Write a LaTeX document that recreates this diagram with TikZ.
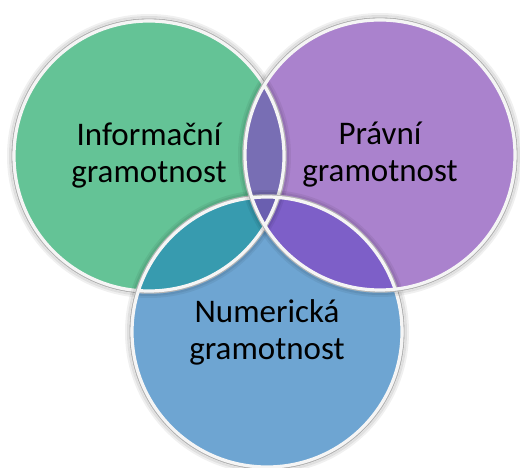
\documentclass[tikz,border=0pt]{standalone}
\usepackage{fontspec}
\setmainfont{Carlito}
\usetikzlibrary{positioning}

\definecolor{infogreen}{HTML}{64C396}
\definecolor{lawpurple}{HTML}{AA82CD}
\definecolor{numblue}{HTML}{6EA5D2}
\definecolor{greenpurple}{HTML}{786EB4}
\definecolor{greenblue}{HTML}{379BAF}
\definecolor{purpleblue}{HTML}{7D5FC8}
\definecolor{allthree}{HTML}{6A5FB0}

\begin{document}
\begin{tikzpicture}[
    x=1pt, y=-1pt,
    bubble/.style={circle, inner sep=0pt, minimum size=270pt, align=center,
        font=\fontsize{33}{37}\selectfont},
    softshadow/.style={draw=black, line width=2pt},
    shadowring/.style={draw=gray!60, line width=1.4pt},
    rim/.style={draw=white!92!gray, line width=3.2pt}
]

\useasboundingbox (0,0) rectangle (520,468);

% three circles
\node[bubble, fill=infogreen] (info) at (149,156) {Informační\\gramotnost};
\node[bubble, fill=lawpurple] (law) at (380,155) {Právní\\gramotnost};
\node[bubble, fill=numblue] (num) at (267,332) {Numerická\\gramotnost};

% overlaps
\begin{scope}
    \clip (info.center) circle[radius=135];
    \fill[greenpurple] (law.center) circle[radius=135];
    \fill[greenblue] (num.center) circle[radius=135];
    \clip (law.center) circle[radius=135];
    \fill[allthree] (num.center) circle[radius=135];
\end{scope}
\begin{scope}
    \clip (law.center) circle[radius=135];
    \clip (num.center) circle[radius=135];
    \fill[purpleblue] (info.center) circle[radius=400];
    \clip (info.center) circle[radius=135];
    \fill[allthree] (num.center) circle[radius=135];
\end{scope}

% rims with a soft shadow
\foreach \c in {info, num, law} {
    \path[softshadow, opacity=0.06] (\c.center) circle[radius=141];
    \path[softshadow, opacity=0.12] (\c.center) circle[radius=139];
    \path[shadowring] (\c.center) circle[radius=137];
    \path[rim] (\c.center) circle[radius=135];
}

\end{tikzpicture}
\end{document}
